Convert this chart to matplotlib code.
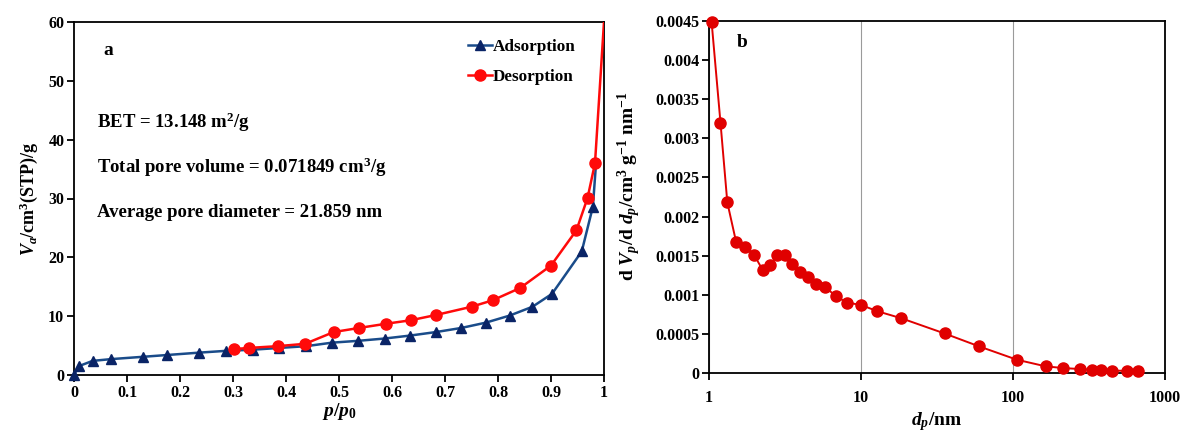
import numpy as np
import matplotlib
matplotlib.use("Agg")
import matplotlib.pyplot as plt
from matplotlib.ticker import FuncFormatter, FixedLocator, NullLocator

plt.rcParams['font.family'] = 'Liberation Serif'
plt.rcParams['font.weight'] = 'bold'
plt.rcParams['axes.labelweight'] = 'bold'
plt.rcParams['mathtext.fontset'] = 'custom'
plt.rcParams['mathtext.rm'] = 'Liberation Serif:bold'
plt.rcParams['mathtext.bf'] = 'Liberation Serif:bold'
plt.rcParams['mathtext.it'] = 'Liberation Serif:italic:bold'

# (a) isotherm
ads_p = [0.0, 0.009, 0.035, 0.07, 0.131, 0.176, 0.236, 0.286, 0.337, 0.387, 0.438,
         0.487, 0.535, 0.586, 0.634, 0.683, 0.731, 0.777, 0.822, 0.865, 0.902,
         0.958, 0.979, 0.985]
ads_v = [0.0, 1.5, 2.4, 2.7, 3.1, 3.4, 3.8, 4.1, 4.3, 4.6, 4.9,
         5.5, 5.8, 6.2, 6.7, 7.3, 8.0, 8.9, 10.1, 11.6, 13.8,
         21.0, 28.6, 36.0]
des_p = [0.301, 0.33, 0.384, 0.436, 0.49, 0.538, 0.588, 0.635, 0.683, 0.75,
         0.79, 0.842, 0.9, 0.948, 0.969, 0.983, 1.0]
des_v = [4.4, 4.6, 4.9, 5.3, 7.3, 8.0, 8.7, 9.3, 10.2, 11.6,
         12.7, 14.8, 18.6, 24.6, 30.1, 36.0, 60.0]

# (b) pore size distribution
dp = [1.04, 1.19, 1.32, 1.51, 1.73, 1.98, 2.25, 2.53, 2.81, 3.15, 3.53, 3.96,
      4.51, 5.08, 5.83, 6.83, 8.11, 10.0, 12.8, 18.4, 35.5, 59.9, 106, 164,
      212, 278, 333, 380, 446, 566, 664]
dvdp = [0.00449, 0.0032, 0.00218, 0.00167, 0.00161, 0.00151, 0.00132, 0.00138,
        0.00151, 0.00151, 0.00139, 0.00129, 0.00123, 0.00114, 0.0011, 0.00098,
        0.0009, 0.00087, 0.00079, 0.0007, 0.000505, 0.00034, 0.00017, 0.000085,
        0.000064, 0.00005, 0.000042, 0.000038, 0.00003, 0.000028, 0.000021]

fig = plt.figure(figsize=(11.88, 4.32), dpi=100)
ax1 = fig.add_axes([74 / 1188, 1 - 375 / 432, 530 / 1188, 353 / 432])
ax2 = fig.add_axes([709 / 1188, 1 - 373 / 432, 456 / 1188, 352 / 432])

ax1.plot(ads_p, ads_v, color='#1a4c8a', lw=1.8, marker='^', ms=7.5,
         mfc='#0a2466', mec='#0a2466', markevery=list(range(len(ads_p) - 1)),
         label='Adsorption', clip_on=False, zorder=3)
ax1.plot(des_p, des_v, color='#ff0a0a', lw=1.8, marker='o', ms=8,
         mfc='#ff0a0a', mec='#ff0a0a', markevery=list(range(len(des_p) - 1)),
         label='Desorption', zorder=4)
ax1.set_xlim(0, 1)
ax1.set_ylim(0, 60)
ax1.set_xticks(np.arange(0, 1.01, 0.1))
ax1.set_xticklabels(['0', '0.1', '0.2', '0.3', '0.4', '0.5', '0.6', '0.7', '0.8', '0.9', '1'])
ax1.set_yticks(np.arange(0, 61, 10))
ax1.set_xlabel(r'$p$/$p_\mathrm{0}$', fontsize=14, labelpad=0)
ax1.set_ylabel(r'$V_a$/cm$^\mathrm{3}$(STP)/g', fontsize=13, labelpad=6)
leg = ax1.legend(loc='upper right', bbox_to_anchor=(0.965, 0.98), frameon=False,
                 fontsize=12.3, handlelength=1.4, handletextpad=0.05, labelspacing=0.8,
                 borderaxespad=0.2)
ax1.text(0.055, 0.92, 'a', transform=ax1.transAxes, fontsize=14, va='center')
ax1.text(0.043, 0.717, r'BET = 13.148 m$^\mathrm{2}$/g', transform=ax1.transAxes, fontsize=13.5, va='center')
ax1.text(0.043, 0.587, r'Total pore volume = 0.071849 cm$^\mathrm{3}$/g', transform=ax1.transAxes, fontsize=13.5, va='center')
ax1.text(0.043, 0.459, 'Average pore diameter = 21.859 nm', transform=ax1.transAxes, fontsize=13.5, va='center')

ax2.plot(dp, dvdp, color='#e00000', lw=1.4, marker='o', ms=8,
         mfc='#e00000', mec='#e00000', clip_on=False, zorder=3)
ax2.set_xscale('log')
ax2.set_xlim(1, 1000)
ax2.set_ylim(0, 0.0045)
ax2.xaxis.set_major_locator(FixedLocator([1, 10, 100, 1000]))
ax2.xaxis.set_minor_locator(NullLocator())
ax2.xaxis.set_major_formatter(FuncFormatter(lambda v, pos: '%g' % v))
ax2.set_yticks(np.arange(0, 0.00451, 0.0005))
ax2.yaxis.set_major_formatter(FuncFormatter(lambda v, pos: '%g' % round(v, 5)))
ax2.grid(axis='x', color='#9a9a9a', lw=0.8)
ax2.set_axisbelow(True)
ax2.set_xlabel(r'$d_p$/nm', fontsize=14, labelpad=3)
ax2.set_ylabel(r'd $V_p$/d $d_p$/cm$^\mathrm{3}$ g$^\mathrm{-1}$ nm$^\mathrm{-1}$', fontsize=14, labelpad=4)
ax2.yaxis.set_label_coords(-0.145, 0.53)
ax2.text(0.061, 0.94, 'b', transform=ax2.transAxes, fontsize=14, va='center')

for ax in (ax1, ax2):
    for s in ax.spines.values():
        s.set_linewidth(1.3)
    ax.tick_params(direction='out', length=5, width=1.3, labelsize=11.5, pad=2)
ax2.tick_params(axis='x', pad=7)

fig.savefig('out.png', dpi=100)
